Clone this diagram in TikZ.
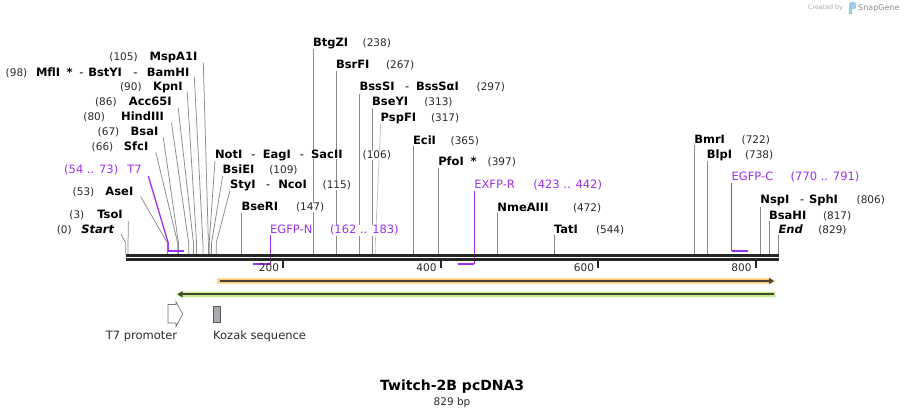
\documentclass[tikz,border=0pt]{standalone}
\usepackage{fontspec}
\setmainfont{DejaVu Sans}
\usetikzlibrary{arrows.meta,calc}
\definecolor{numgray}{HTML}{2A2A2A}
\definecolor{sitegray}{HTML}{8A8A8A}
\definecolor{sitelight}{HTML}{C4C4C4}
\definecolor{primer}{RGB}{155,48,240}
\definecolor{seqblack}{HTML}{262626}
\definecolor{orangeband}{HTML}{F9C97C}
\definecolor{greenband}{HTML}{C2F28E}
\definecolor{bandline}{HTML}{4A4436}
\definecolor{kozak}{HTML}{A7AAAE}
\definecolor{logoblue}{HTML}{9CCCEC}
\begin{document}
\begin{tikzpicture}[x=1pt,y=-1pt,
  lbl/.style={inner sep=0pt,outer sep=0pt,fill=white},
  nm/.style={lbl,font=\fontsize{11.5}{13.8}\selectfont\bfseries},
  nmi/.style={lbl,font=\fontsize{11.5}{13.8}\selectfont\bfseries\itshape},
  nb/.style={lbl,font=\fontsize{10.5}{12.6}\selectfont,text=numgray},
  pr/.style={lbl,font=\fontsize{11.5}{13.8}\selectfont,text=primer},
  hy/.style={lbl,font=\fontsize{11.5}{13.8}\selectfont},
  L/.style={anchor=base east}, R/.style={anchor=base west},
  site/.style={draw=sitegray,line width=0.75pt},
  sitel/.style={draw=sitelight,line width=0.75pt},
  pline/.style={draw=primer,line width=1.3pt},
  pbar/.style={draw=primer,line width=2.2pt},
  seq/.style={draw=seqblack,line width=2.8pt},
  tickmark/.style={draw=seqblack,line width=1.6pt},
  tickl/.style={inner sep=0pt,font=\fontsize{10.5}{12.6}\selectfont,text=numgray,anchor=base east},
  feat/.style={inner sep=0pt,font=\fontsize{11.5}{13.8}\selectfont,text=numgray,anchor=base west},
]
\useasboundingbox (0,0) rectangle (906,417);

% ---------- site coordinates on the sequence ----------
\foreach \q in {0,3,53,54,66,67,73,80,86,90,98,105,106,109,115,147,162,183,238,267,297,313,317,365,397,423,442,472,544,722,738,770,791,806,817,829} {
  \coordinate (s\q) at ({125.7+0.7875*\q},254);
  \coordinate (m\q) at ({125.7+0.7875*\q},243);
}
\coordinate (pT7a) at ({125.7+0.7875*54},250.7);
\coordinate (pT7b) at ({125.7+0.7875*73+0.5},250.7);
\coordinate (pNa) at (252.7,264);
\coordinate (pNb) at (270.2,264);
\coordinate (pRa) at (458.3,264);
\coordinate (pRb) at (474.3,264);
\coordinate (pCa) at (731.7,250.7);
\coordinate (pCb) at (747.7,250.7);

% ---------- left-hand labels ----------
\path
  node[nb,L] (nMsp) at (137.7,60.7) {(105)}
  node[nm,L] (lMsp) at (197.3,60.7) {MspA1I}
  node[nb,L] (nMfl) at (27.3,76.3) {(98)}
  node[nm,R] (lMfl) at (36,76.3) {MflI}
  node[nm,R] (aMfl) at (66.7,76.3) {*}
  node[hy,R] (h1Mfl) at (79.3,76.3) {-}
  node[nm,R] (lBst) at (88.3,76.3) {BstYI}
  node[hy,R] (h2Mfl) at (133.3,76.3) {-}
  node[nm,L] (lBam) at (189.3,76.3) {BamHI}
  node[nb,L] (nKpn) at (141.7,90.7) {(90)}
  node[nm,L] (lKpn) at (182.7,90.7) {KpnI}
  node[nb,L] (nAcc) at (116.7,105.7) {(86)}
  node[nm,L] (lAcc) at (171.7,105.7) {Acc65I}
  node[nb,L] (nHin) at (105,120.7) {(80)}
  node[nm,L] (lHin) at (164,120.7) {HindIII}
  node[nb,L] (nBsa) at (119.3,135.7) {(67)}
  node[nm,L] (lBsa) at (158.3,135.7) {BsaI}
  node[nb,L] (nSfc) at (113.3,150.7) {(66)}
  node[nm,L] (lSfc) at (148.3,150.7) {SfcI}
  node[pr,L] (nT7) at (118.3,174) {(54 .. 73)}
  node[pr,L] (lT7) at (141.7,174) {T7}
  node[nb,L] (nAse) at (94.3,195.7) {(53)}
  node[nm,L] (lAse) at (133.3,195.7) {AseI}
  node[nb,L] (nTso) at (84.3,218.3) {(3)}
  node[nm,L] (lTso) at (122.7,218.3) {TsoI}
  node[nb,L] (nStart) at (71.7,233.3) {(0)}
  node[nmi,L] (lStart) at (114,233.3) {Start};

% ---------- connectors ----------
\draw[site] ([xshift=6pt,yshift=-2pt]lMsp.base east) -- (m105) -- (s105);
\draw[site] ([xshift=5pt,yshift=-0.5pt]lBam.base east) -- (m98) -- (s98);
\draw[site] ([xshift=4.5pt,yshift=-1pt]lKpn.base east) -- (m90) -- (s90);
\draw[site] ([xshift=6.5pt,yshift=-2pt]lAcc.base east) -- (m86) -- (s86);
\draw[site] ([xshift=7.5pt,yshift=-2pt]lHin.base east) -- (m80) -- (s80);
\draw[site] ([xshift=5pt,yshift=-1.6pt]lBsa.base east) -- (m67) -- (s67);
\draw[site] ([xshift=7.5pt,yshift=-1.6pt]lSfc.base east) -- (m66) -- (s66);
\draw[site] ([xshift=7.4pt,yshift=-1pt]lAse.base east) -- (m53) -- (s53);
\draw[site] ([xshift=5.6pt,yshift=-2.7pt]lTso.base east) -- (m3) -- (s3);
\draw[site] ([xshift=7pt,yshift=-0.7pt]lStart.base east) -- (m0) -- (s0);
\draw[pline] ([xshift=6.6pt,yshift=-2pt]lT7.base east) -- (m54) -- (pT7a);

\coordinate (cNot) at (215,161);
\coordinate (cBsiE) at (222.7,176);
\coordinate (cSty) at (230,190.3);
\coordinate (cPspF) at (380.7,123.3);
\draw[site] (cNot) -- (m106) -- (s106);
\draw[site] (cBsiE) -- (m109) -- (s109);
\draw[site] (cSty) -- (m115) -- (s115);
\draw[sitel] (cPspF) -- (m317) -- (s317);

\foreach \q/\yy in {147/212.7,238/48.4,267/71.5,297/93.7,313/108.2,365/146.2,397/167.7,472/213.3,544/235,722/145,738/160.7,806/207,817/221,829/235} {
  \coordinate (v\q) at ({125.7+0.7875*\q},\yy);
  \draw[site] (v\q) -- (s\q);
}
\coordinate (vN) at (270.2,235);
\coordinate (vR) at (474.3,191);
\coordinate (vC) at (731.7,183.3);
\draw[pline] (vN) -- (pNb);
\draw[pline] (vR) -- (pRb);
\draw[pline] (vC) -- (pCa);

% ---------- middle labels ----------
\node[nm,R] (lNot) at (215,159) {NotI};
\node[hy,R] (h1Not) at (251.4,159) {-};
\node[nm,R] (lEag) at (262.8,159) {EagI};
\node[hy,R] (h2Not) at (299.8,159) {-};
\node[nm,R] (lSac) at (311.2,159) {SacII};
\node[nb,R] (nNot) at (362.7,159) {(106)};
\node[nm,R] (lBsiE) at (222.7,174) {BsiEI};
\node[nb,R] (nBsiE) at (269.3,174) {(109)};
\node[nm,R] (lSty) at (230,188.3) {StyI};
\node[hy,R] (hSty) at (266,188.3) {-};
\node[nm,R] (lNco) at (278.3,188.3) {NcoI};
\node[nb,R] (nSty) at (322.7,188.3) {(115)};
\node[nm,R] (lBseR) at (241.5,210.7) {BseRI};
\node[nb,R] (nBseR) at (296,210.7) {(147)};
\node[pr,R] (lEGFPN) at (270.2,234) {EGFP-N};
\node[pr,R] (nEGFPN) at (330,234) {(162 .. 183)};

\node[nm,R] (lBtg) at (313.1,46.7) {BtgZI};
\node[nb,R] (nBtg) at (362.7,46.7) {(238)};
\node[nm,R] (lBsrF) at (336,69) {BsrFI};
\node[nb,R] (nBsrF) at (386,69) {(267)};
\node[nm,R] (lBssS) at (359.6,90.7) {BssSI};
\node[hy,R] (hBssS) at (405,90.7) {-};
\node[nm,R] (lBssSa) at (416,90.7) {BssSαI};
\node[nb,R] (nBssS) at (476.7,90.7) {(297)};
\node[nm,R] (lBseY) at (372.2,105.7) {BseYI};
\node[nb,R] (nBseY) at (424.3,105.7) {(313)};
\node[nm,R] (lPspF) at (380.7,121.3) {PspFI};
\node[nb,R] (nPspF) at (431,121.3) {(317)};
\node[nm,R] (lEci) at (413.1,144.7) {EciI};
\node[nb,R] (nEci) at (450.7,144.7) {(365)};
\node[nm,R] (lPfo) at (438.3,165.7) {PfoI};
\node[nm,R] (aPfo) at (470.5,165.7) {*};
\node[nb,R] (nPfo) at (487.7,165.7) {(397)};
\node[pr,R] (lEXFP) at (474.3,189) {EXFP-R};
\node[pr,R] (nEXFP) at (533.3,189) {(423 .. 442)};
\node[nm,R] (lNme) at (497.4,211.3) {NmeAIII};
\node[nb,R] (nNme) at (573,211.3) {(472)};
\node[nm,R] (lTat) at (554.1,234) {TatI};
\node[nb,R] (nTat) at (596,234) {(544)};

% ---------- right labels ----------
\node[nm,R] (lBmr) at (694.3,144) {BmrI};
\node[nb,R] (nBmr) at (741.7,144) {(722)};
\node[nm,R] (lBlp) at (706.9,159) {BlpI};
\node[nb,R] (nBlp) at (745,159) {(738)};
\node[pr,R] (lEGFPC) at (731.7,180.7) {EGFP-C};
\node[pr,R] (nEGFPC) at (790.7,180.7) {(770 .. 791)};
\node[nm,R] (lNsp) at (760.4,204) {NspI};
\node[hy,R] (hNsp) at (800,204) {-};
\node[nm,R] (lSph) at (809,204) {SphI};
\node[nb,R] (nNsp) at (856.7,204) {(806)};
\node[nm,R] (lBsaH) at (769.1,219) {BsaHI};
\node[nb,R] (nBsaH) at (823,219) {(817)};
\node[nmi,R] (lEnd) at (778.5,234) {End};
\node[nb,R] (nEnd) at (818.3,234) {(829)};

% ---------- sequence ----------
\coordinate (qA) at (125.7,255.5);
\coordinate (qB) at (779,255.5);
\coordinate (qC) at (125.7,259.7);
\coordinate (qD) at (779,259.7);
\draw[seq] (qA) -- (qB);
\draw[seq] (qC) -- (qD);

\draw[pbar] (pT7a) -- (pT7b);
\draw[pbar] (pNa) -- (pNb);
\draw[pbar] (pRa) -- (pRb);
\draw[pbar] (pCa) -- (pCb);

% ---------- ticks ----------
\foreach \t/\tx in {200/283.2,400/440.7,600/598.2,800/755.7} {
  \coordinate (tk\t) at (\tx,261);
  \coordinate (tb\t) at (\tx,267.5);
  \draw[tickmark] (tk\t) -- (tb\t);
  \node[tickl] (tl\t) at (\tx-4,272) {\t};
}

% ---------- features ----------
\fill[orangeband] (217.3,278.3) -- (770.5,278.3) -- (775.5,281) -- (770.5,283.7) -- (217.3,283.7) -- cycle;
\draw[bandline,line width=1.8pt,-{Triangle[length=5pt,width=6pt]}] (219.5,281) -- (774,281);
\fill[greenband] (175.5,294.3) -- (180.5,291.5) -- (775.5,291.5) -- (775.5,297.1) -- (180.5,297.1) -- cycle;
\draw[bandline,line width=1.8pt,{Triangle[length=5pt,width=6pt]}-] (177.5,294.3) -- (773.5,294.3);

\draw[draw=black!55,line width=0.7pt,fill=white] (168,304.5) -- (176,304.5) -- (176,301.8) -- (182.7,314) -- (176,326.5) -- (176,323) -- (168,323) -- cycle;
\draw[draw=black!65,fill=kozak,line width=0.6pt] (213.3,306) rectangle (220,322.3);
\node[feat,anchor=base] (fT7) at (141.5,339.3) {T7 promoter};
\node[feat] (fKoz) at (213,339.3) {Kozak sequence};

% ---------- title ----------
\node[inner sep=0pt,font=\fontsize{14}{16.5}\selectfont\bfseries,anchor=base] (title) at (452.2,390) {Twitch-2B pcDNA3};
\node[inner sep=0pt,font=\fontsize{10.5}{12.6}\selectfont,text=numgray,anchor=base] (len) at (452,405.5) {829 bp};

% ---------- credit ----------
\node[inner sep=0pt,font=\fontsize{6.3}{7.5}\selectfont,text=black!35,anchor=base west] (cby) at (808,9.5) {Created by};
\fill[logoblue,rounded corners=1.5pt] (849,2) rectangle (856,9);
\fill[logoblue] (849,5) rectangle (852,14);
\node[inner sep=0pt,font=\fontsize{8}{9.5}\selectfont,text=black!45,anchor=base west] (csg) at (858,10.5) {SnapGene};
\end{tikzpicture}
\end{document}
